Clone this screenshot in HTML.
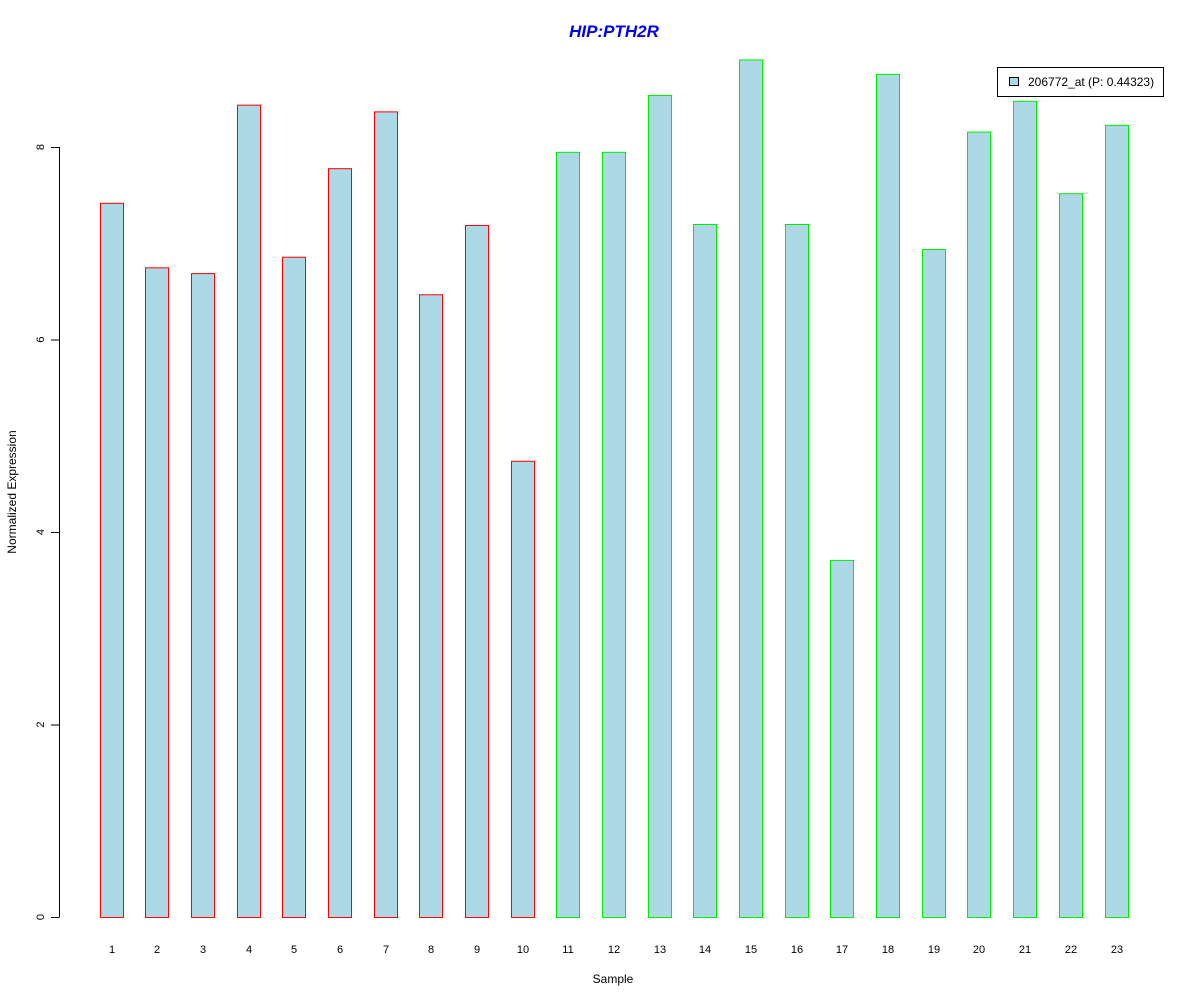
<!DOCTYPE html>
<html><head><meta charset="utf-8"><style>body{margin:0;background:#fff}svg{display:block;font-family:"Liberation Sans",Arial,sans-serif}</style></head>
<body>
<svg id="chart" width="1200" height="1000" viewBox="0 0 1200 1000">
<rect width="1200" height="1000" fill="#fff"/>
<text x="614" y="37" text-anchor="middle" font-size="17" font-weight="bold" font-style="italic" fill="#0000ee">HIP:PTH2R</text>
<g id="yaxis"></g>
<g id="bars"></g>
<g id="xlabels"></g>
<text x="613" y="983" text-anchor="middle" font-size="12">Sample</text>
<text transform="translate(16,492) rotate(-90)" text-anchor="middle" font-size="12">Normalized Expression</text>
<g>
<rect x="997.5" y="67.5" width="166" height="29" fill="#fff" stroke="#000"/>
<rect x="1009.5" y="77.5" width="9" height="8" fill="#add8e6" stroke="#000"/>
<text x="1028" y="86" font-size="12">206772_at (P: 0.44323)</text>
</g>
</svg>
<script>
const samples = ["1","2","3","4","5","6","7","8","9","10","11","12","13","14","15","16","17","18","19","20","21","22","23"];
const values = [7.42,6.75,6.69,8.44,6.86,7.78,8.37,6.47,7.19,4.74,7.95,7.95,8.54,7.20,8.91,7.20,3.71,8.76,6.94,8.16,8.48,7.52,8.23];
const groups = ["a","a","a","a","a","a","a","a","a","a","b","b","b","b","b","b","b","b","b","b","b","b","b"];
const yTicks = [0,2,4,6,8];
const NS="http://www.w3.org/2000/svg";
const y = v => 917 - v*96.25;
const x = i => 111.5 + i*(1005/22);
function mk(t,a){const e=document.createElementNS(NS,t);for(const k in a)e.setAttribute(k,a[k]);return e;}
const ya=document.getElementById('yaxis');
const ax=mk('line',{x1:59.5,x2:59.5,y1:y(yTicks[0]),y2:y(yTicks[yTicks.length-1]),stroke:'#000'});


ya.appendChild(ax);
yTicks.forEach(t=>{
  const l=mk('line',{x1:51,x2:59.5,y1:y(t)+0.5,y2:y(t)+0.5,stroke:'#000'});
  
  
  ya.appendChild(l);
  const tx=mk('text',{transform:`translate(44,${y(t)}) rotate(-90)`,'text-anchor':'middle','font-size':11});
  
  
  tx.textContent=t;ya.appendChild(tx);
});
const bg=document.getElementById('bars'),xl=document.getElementById('xlabels');
values.forEach((v,i)=>{
  const cx=Math.round(x(i));
  const r=mk('rect',{x:cx-11.5,y:y(v)+0.5,width:23,height:917-y(v),fill:'#add8e6',stroke:groups[i]==='a'?'#ff0000':'#00ee00'});
  
  
  bg.appendChild(r);
  const t=mk('text',{x:cx,y:953,'text-anchor':'middle','font-size':11});
  
  
  t.textContent=samples[i];xl.appendChild(t);
});
</script>
</body></html>
